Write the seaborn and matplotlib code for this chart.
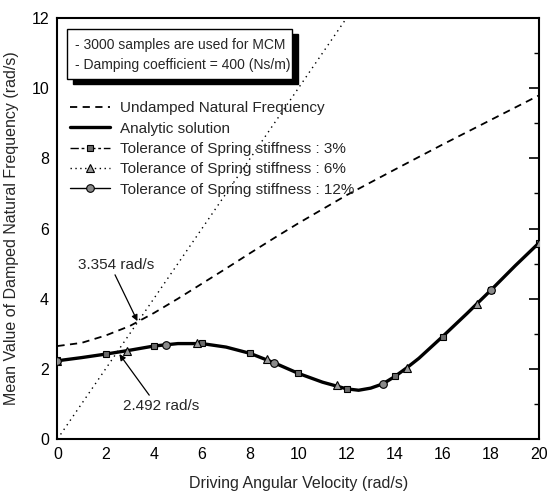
import matplotlib
matplotlib.use("Agg")
import matplotlib.pyplot as plt
import seaborn as sns
from matplotlib.patches import Rectangle
from matplotlib.lines import Line2D
from matplotlib.ticker import MultipleLocator

# ---------------- data ----------------
undamped_x = [0, 1, 2, 3, 4, 5, 6, 7, 8, 9, 10, 12, 14, 16, 18, 20]
undamped_y = [2.65, 2.74, 2.95, 3.22, 3.59, 4.00, 4.43, 4.86, 5.30, 5.73, 6.15,
              6.95, 7.68, 8.40, 9.10, 9.80]

analytic_x = [0, 1, 2, 3, 4, 5, 6, 7, 8, 9, 10, 11, 12, 12.5, 13, 13.5, 14, 14.5,
              15, 16, 17, 18, 19, 20]
analytic_y = [2.23, 2.32, 2.42, 2.53, 2.65, 2.72, 2.72, 2.62, 2.44, 2.17, 1.87, 1.62,
              1.43, 1.39, 1.45, 1.57, 1.78, 2.03, 2.30, 2.93, 3.58, 4.25, 4.94, 5.60]

tol3_x = [0, 2, 4, 6, 8, 10, 12, 14, 16, 18, 20]
tol3_y = [2.24, 2.42, 2.66, 2.73, 2.44, 1.87, 1.43, 1.80, 2.92, 4.25, 5.60]

tol6_x = [0, 2.9, 5.8, 8.7, 11.6, 14.5, 17.4, 20]
tol6_y = [2.22, 2.50, 2.74, 2.29, 1.53, 2.03, 3.84, 5.60]

tol12_x = [0, 4.5, 9, 13.5, 18]
tol12_y = [2.23, 2.69, 2.17, 1.58, 4.24]

resonance_x = [0, 12]
resonance_y = [0, 12]

x_ticks = [0, 2, 4, 6, 8, 10, 12, 14, 16, 18, 20]
y_ticks = [0, 2, 4, 6, 8, 10, 12]

labels = ['Undamped Natural Frequency', 'Analytic solution',
          'Tolerance of Spring stiffness : 3%', 'Tolerance of Spring stiffness : 6%',
          'Tolerance of Spring stiffness : 12%']

# ---------------- style ----------------
sns.set_style("white")
plt.rcParams['font.family'] = ['Liberation Sans', 'DejaVu Sans']
plt.rcParams['axes.unicode_minus'] = False

fig = plt.figure(figsize=(5.47, 4.92), dpi=100)
ax = fig.add_axes([0.105, 0.1077, 0.881, 0.8557])

undamped_ls = (0, (4, 3))
tol3_ls = (0, (6, 2, 2, 2))
tol6_ls = (0, (1, 2.5))
m3 = dict(marker='s', markersize=5, markerfacecolor='#6a6a6a',
          markeredgecolor='black', markeredgewidth=0.8)
m6 = dict(marker='^', markersize=5.5, markerfacecolor='#9a9a9a',
          markeredgecolor='black', markeredgewidth=0.8)
m12 = dict(marker='o', markersize=5.5, markerfacecolor='#8a8a8a',
           markeredgecolor='black', markeredgewidth=0.8)

sns.lineplot(x=resonance_x, y=resonance_y, ax=ax, color='black', lw=1.0,
             linestyle=(0, (1, 3)), zorder=2)
sns.lineplot(x=undamped_x, y=undamped_y, ax=ax, color='black', lw=1.3,
             linestyle=undamped_ls, zorder=2)
sns.lineplot(x=analytic_x, y=analytic_y, ax=ax, color='black', lw=2.4, zorder=2.5)
# Monte Carlo series: the lines lie underneath the analytic curve, only markers show
sns.lineplot(x=tol3_x, y=tol3_y, ax=ax, color='black', linestyle='none', zorder=3, **m3)
sns.lineplot(x=tol6_x, y=tol6_y, ax=ax, color='black', linestyle='none', zorder=3, **m6)
sns.lineplot(x=tol12_x, y=tol12_y, ax=ax, color='black', linestyle='none', zorder=3, **m12)

ax.set_xlim(0, 20)
ax.set_ylim(0, 12)
ax.set_xticks(x_ticks)
ax.set_yticks(y_ticks)
ax.xaxis.set_minor_locator(MultipleLocator(1))
ax.yaxis.set_minor_locator(MultipleLocator(1))
ax.tick_params(which='both', direction='in', right=True, top=False,
               colors='black', labelsize=11.5)
ax.tick_params(which='major', length=7, width=1.2, pad=6)
ax.tick_params(which='minor', length=3.5, width=1.0)
for s in ax.spines.values():
    s.set_linewidth(1.5)
    s.set_color('black')

ax.set_xlabel('Driving Angular Velocity (rad/s)', fontsize=11.5, labelpad=9.5)
ax.set_ylabel('Mean Value of Damped Natural Frequency (rad/s)', fontsize=11.5, labelpad=9)

# legend without frame
handles = [
    Line2D([], [], color='black', lw=1.3, linestyle=undamped_ls),
    Line2D([], [], color='black', lw=2.4),
    Line2D([], [], color='black', lw=1.0, linestyle=tol3_ls, **m3),
    Line2D([], [], color='black', lw=1.0, linestyle=tol6_ls, **m6),
    Line2D([], [], color='black', lw=1.0, **m12),
]
ax.legend(handles, labels, loc='upper left', bbox_to_anchor=(0.0135, 0.817),
          borderaxespad=0, frameon=False, fontsize=11, handlelength=2.6,
          handletextpad=0.65, labelspacing=0.42, numpoints=1)

# information box with shadow
bx, by, bw, bh = 0.0197, 0.855, 0.467, 0.119
ax.add_patch(Rectangle((bx + 0.012, by - 0.011), bw, bh, transform=ax.transAxes,
                       facecolor='black', edgecolor='black', zorder=5))
ax.add_patch(Rectangle((bx, by), bw, bh, transform=ax.transAxes,
                       facecolor='white', edgecolor='black', lw=1.0, zorder=6))
ax.text(0.036, 0.936, '- 3000 samples are used for MCM', transform=ax.transAxes,
        fontsize=10, va='center', ha='left', zorder=7)
ax.text(0.036, 0.888, '- Damping coefficient = 400 (Ns/m)', transform=ax.transAxes,
        fontsize=10, va='center', ha='left', zorder=7)

# annotations
arrow = dict(arrowstyle='-|>', color='black', lw=0.9, mutation_scale=9,
             shrinkA=0, shrinkB=0)
ax.text(2.45, 4.96, '3.354 rad/s', fontsize=11, ha='center', va='center')
ax.annotate('', xy=(3.32, 3.36), xytext=(2.39, 4.68), arrowprops=arrow)
ax.text(4.29, 0.94, '2.492 rad/s', fontsize=11, ha='center', va='center')
ax.annotate('', xy=(2.57, 2.42), xytext=(3.81, 1.25), arrowprops=arrow)

fig.savefig('out.png', dpi=100)
